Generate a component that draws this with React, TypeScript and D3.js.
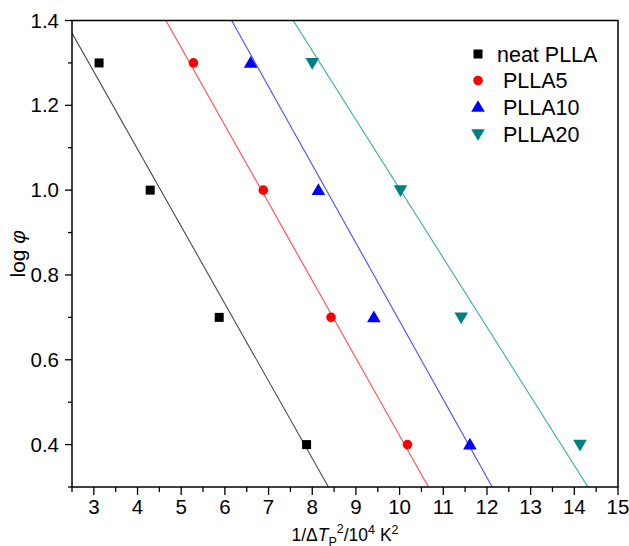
import React from "react";
import * as d3 from "d3";

const seriesNames = ["neat PLLA", "PLLA5", "PLLA10", "PLLA20"];
const yValues = [1.3, 1.0, 0.7, 0.4];
const neatX = [3.12, 4.29, 5.87, 7.87];
const pla5X = [5.28, 6.88, 8.43, 10.18];
const pla10X = [6.59, 8.14, 9.41, 11.61];
const pla20X = [8.0, 10.02, 11.41, 14.13];
const fitIntercepts = [1.826, 2.251, 2.535, 2.633];
const fitSlopes = [-0.1823, -0.183, -0.1844, -0.163];
const xTicks = [3, 4, 5, 6, 7, 8, 9, 10, 11, 12, 13, 14, 15];
const yTicks = [0.4, 0.6, 0.8, 1.0, 1.2, 1.4];

const markerColors = ["#000000", "#ff0000", "#0000ff", "#008080"];
const lineColors = ["#4a4a4a", "#ff4d4d", "#4d4dff", "#3aaca4"];
const shapes = ["square", "circle", "triangle", "invtriangle"];

const W = 629, H = 546;
const L = 72, R = 618, T = 20.5, B = 487;

function Marker({ shape, x, y, color }: { shape: string; x: number; y: number; color: string }) {
  if (shape === "square") return <rect x={x - 4.5} y={y - 4.5} width={9} height={9} fill={color} />;
  if (shape === "circle") return <circle cx={x} cy={y} r={4.8} fill={color} />;
  if (shape === "triangle")
    return <path d={`M${x},${y - 6.8} L${x + 6.8},${y + 4.8} L${x - 6.8},${y + 4.8} Z`} fill={color} />;
  return <path d={`M${x},${y + 6.8} L${x + 6.8},${y - 4.8} L${x - 6.8},${y - 4.8} Z`} fill={color} />;
}

export default function App() {
  const x = d3.scaleLinear().domain([2.5, 15]).range([L, R]);
  const y = d3.scaleLinear().domain([0.3, 1.4]).range([B, T]);
  const allX = [neatX, pla5X, pla10X, pla20X];
  const xMinor = d3.range(2.5, 15.01, 0.5).filter((v) => Math.abs(v - Math.round(v)) > 0.01);
  const yMinor = d3.range(0.3, 1.41, 0.2);
  const line = d3.line<number[]>().x((d) => x(d[0])).y((d) => y(d[1]));
  const font = "'Liberation Sans', Arial, sans-serif";

  return (
    <svg width={W} height={H} style={{ position: "absolute", left: 0, top: 0 }} fontFamily={font}>
      <rect width={W} height={H} fill="#fff" />
      <defs>
        <clipPath id="plot">
          <rect x={L} y={T} width={R - L} height={B - T} />
        </clipPath>
      </defs>
      <g clipPath="url(#plot)">
        {fitIntercepts.map((a, i) => {
          const b = fitSlopes[i];
          const pts = [
            [2.5, a + b * 2.5],
            [15, a + b * 15],
          ];
          return <path key={i} d={line(pts) || ""} stroke={lineColors[i]} strokeWidth={1.1} fill="none" />;
        })}
      </g>
      {allX.map((xs, i) =>
        xs.map((v, j) => (
          <Marker key={`${i}-${j}`} shape={shapes[i]} x={x(v)} y={y(yValues[j])} color={markerColors[i]} />
        ))
      )}
      <rect x={L} y={T} width={R - L} height={B - T} fill="none" stroke="#000" strokeWidth={1.5} />
      {xTicks.map((t) => (
        <g key={t}>
          <line x1={x(t)} x2={x(t)} y1={B} y2={B + 8} stroke="#000" strokeWidth={1.3} />
          <text x={x(t)} y={514} fontSize={20.5} textAnchor="middle">{t}</text>
        </g>
      ))}
      {xMinor.map((t) => (
        <line key={t} x1={x(t)} x2={x(t)} y1={B} y2={B + 5} stroke="#000" strokeWidth={1.3} />
      ))}
      {yTicks.map((t) => (
        <g key={t}>
          <line x1={L - 7} x2={L} y1={y(t)} y2={y(t)} stroke="#000" strokeWidth={1.3} />
          <text x={59} y={y(t) + 7} fontSize={20.5} textAnchor="end">{t.toFixed(1)}</text>
        </g>
      ))}
      {yMinor.map((t) => (
        <line key={t} x1={L - 4} x2={L} y1={y(t)} y2={y(t)} stroke="#000" strokeWidth={1.3} />
      ))}
      <text transform={`translate(25,${(T + B) / 2}) rotate(-90)`} fontSize={21} textAnchor="middle">
        log <tspan fontStyle="italic">φ</tspan>
      </text>
      <text x={345} y={541} fontSize={17.5} textAnchor="middle">
        1/Δ<tspan fontStyle="italic">T</tspan>
        <tspan fontSize={12.5} dy={5}>P</tspan>
        <tspan fontSize={12.5} dy={-13}>2</tspan>
        <tspan dy={8}>/10</tspan>
        <tspan fontSize={12.5} dy={-7}>4</tspan>
        <tspan dy={7}> K</tspan>
        <tspan fontSize={12.5} dy={-7}>2</tspan>
      </text>
      {seriesNames.map((n, i) => {
        const ly = [54, 80.5, 107, 134][i];
        return (
          <g key={n}>
            <Marker shape={shapes[i]} x={478} y={ly} color={markerColors[i]} />
            <text x={i === 0 ? 497 : 503} y={ly + 7.5} fontSize={21.5}>{n}</text>
          </g>
        );
      })}
    </svg>
  );
}
